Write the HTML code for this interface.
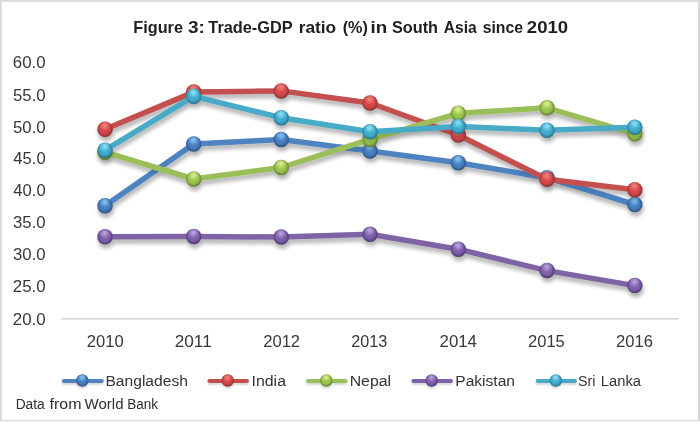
<!DOCTYPE html>
<html lang="en">
<head>
<meta charset="utf-8">
<title>Figure 3: Trade-GDP ratio (%) in South Asia since 2010</title>
<style>
html,body{margin:0;padding:0;background:#fff;}
body{width:700px;height:424px;overflow:hidden;}
svg{display:block;}
text{font-family:"Liberation Sans",sans-serif;}
.t{font-weight:bold;font-size:16.4px;fill:#1e1e1e;}
.a{font-size:15.6px;fill:#383838;}
.l{font-size:15.2px;fill:#333;}
.f{font-size:14px;fill:#2e2e2e;}
</style>
</head>
<body>
<svg width="700" height="424" viewBox="0 0 700 424">
<defs>
<filter id="sh" x="-5%" y="-20%" width="110%" height="150%">
<feGaussianBlur in="SourceAlpha" stdDeviation="1.9"/>
<feOffset dx="0.6" dy="3.6" result="b"/>
<feComponentTransfer><feFuncA type="linear" slope="0.12"/></feComponentTransfer>
<feMerge><feMergeNode/><feMergeNode in="SourceGraphic"/></feMerge>
</filter>
<filter id="sh0" x="-5%" y="-20%" width="110%" height="150%">
<feGaussianBlur in="SourceAlpha" stdDeviation="1.9"/>
<feOffset dx="0.6" dy="3.6"/>
<feComponentTransfer><feFuncA type="linear" slope="0.21"/></feComponentTransfer>
</filter>
<filter id="sh2" x="-20%" y="-60%" width="140%" height="260%">
<feGaussianBlur in="SourceAlpha" stdDeviation="1.0"/>
<feOffset dx="0.3" dy="1.6" result="b"/>
<feComponentTransfer><feFuncA type="linear" slope="0.16"/></feComponentTransfer>
<feMerge><feMergeNode/><feMergeNode in="SourceGraphic"/></feMerge>
</filter>
<radialGradient id="b-blue" cx="0.48" cy="0.45" r="0.55"><stop offset="0" stop-color="#467dc3"/><stop offset="0.58" stop-color="#467dc3"/><stop offset="0.85" stop-color="#35629c"/><stop offset="1" stop-color="#264870"/></radialGradient>
<radialGradient id="h-blue" cx="0.48" cy="0.26" r="0.36"><stop offset="0" stop-color="#8fd0fa" stop-opacity="0.9"/><stop offset="0.35" stop-color="#8fd0fa" stop-opacity="0.6"/><stop offset="1" stop-color="#8fd0fa" stop-opacity="0"/></radialGradient>
<radialGradient id="b-red" cx="0.48" cy="0.45" r="0.55"><stop offset="0" stop-color="#d4474a"/><stop offset="0.58" stop-color="#d4474a"/><stop offset="0.85" stop-color="#a8393b"/><stop offset="1" stop-color="#752b2c"/></radialGradient>
<radialGradient id="h-red" cx="0.48" cy="0.26" r="0.36"><stop offset="0" stop-color="#f98a88" stop-opacity="0.9"/><stop offset="0.35" stop-color="#f98a88" stop-opacity="0.6"/><stop offset="1" stop-color="#f98a88" stop-opacity="0"/></radialGradient>
<radialGradient id="b-green" cx="0.48" cy="0.45" r="0.55"><stop offset="0" stop-color="#98c44a"/><stop offset="0.58" stop-color="#98c44a"/><stop offset="0.85" stop-color="#77993a"/><stop offset="1" stop-color="#56702a"/></radialGradient>
<radialGradient id="h-green" cx="0.48" cy="0.26" r="0.36"><stop offset="0" stop-color="#eaf6a0" stop-opacity="0.9"/><stop offset="0.35" stop-color="#eaf6a0" stop-opacity="0.6"/><stop offset="1" stop-color="#eaf6a0" stop-opacity="0"/></radialGradient>
<radialGradient id="b-purple" cx="0.48" cy="0.45" r="0.55"><stop offset="0" stop-color="#7d5eaa"/><stop offset="0.58" stop-color="#7d5eaa"/><stop offset="0.85" stop-color="#5f4688"/><stop offset="1" stop-color="#463464"/></radialGradient>
<radialGradient id="h-purple" cx="0.48" cy="0.26" r="0.36"><stop offset="0" stop-color="#c8b0e6" stop-opacity="0.9"/><stop offset="0.35" stop-color="#c8b0e6" stop-opacity="0.6"/><stop offset="1" stop-color="#c8b0e6" stop-opacity="0"/></radialGradient>
<radialGradient id="b-cyan" cx="0.48" cy="0.45" r="0.55"><stop offset="0" stop-color="#3fabcc"/><stop offset="0.58" stop-color="#3fabcc"/><stop offset="0.85" stop-color="#2f88a4"/><stop offset="1" stop-color="#22657a"/></radialGradient>
<radialGradient id="h-cyan" cx="0.48" cy="0.26" r="0.36"><stop offset="0" stop-color="#98eafc" stop-opacity="0.9"/><stop offset="0.35" stop-color="#98eafc" stop-opacity="0.6"/><stop offset="1" stop-color="#98eafc" stop-opacity="0"/></radialGradient>
</defs>
<rect x="0" y="0" width="700" height="424" fill="#fff"/>
<rect x="0" y="0" width="700" height="1.8" fill="#d9d9d9"/>
<rect x="0" y="0" width="1.8" height="421" fill="#d9d9d9"/>
<rect x="698" y="0" width="2" height="421" fill="#d9d9d9"/>
<rect x="0" y="419.8" width="700" height="1.5" fill="#dcdcdc"/>
<rect x="60.8" y="317.95" width="618.1" height="1.8" fill="#d9d9d9"/>
<g class="t"><text x="133.31" y="32.9" textLength="49.64" lengthAdjust="spacingAndGlyphs">Figure</text><text x="187.96" y="32.9" textLength="16.86" lengthAdjust="spacingAndGlyphs">3:</text><text x="208.32" y="32.9" textLength="84.33" lengthAdjust="spacingAndGlyphs">Trade-GDP</text><text x="298.66" y="32.9" textLength="37.52" lengthAdjust="spacingAndGlyphs">ratio</text><text x="342.69" y="32.9" textLength="25.22" lengthAdjust="spacingAndGlyphs">(%)</text><text x="370.59" y="32.9" textLength="16.67" lengthAdjust="spacingAndGlyphs">in</text><text x="391.93" y="32.9" textLength="46.08" lengthAdjust="spacingAndGlyphs">South</text><text x="443.81" y="32.9" textLength="32.99" lengthAdjust="spacingAndGlyphs">Asia</text><text x="482.64" y="32.9" textLength="40.40" lengthAdjust="spacingAndGlyphs">since</text><text x="526.86" y="32.9" textLength="41.31" lengthAdjust="spacingAndGlyphs">2010</text></g>
<g class="a"><text x="12.84" y="68.1" textLength="32.81" lengthAdjust="spacingAndGlyphs">60.0</text><text x="13.03" y="100.6" textLength="32.63" lengthAdjust="spacingAndGlyphs">55.0</text><text x="13.03" y="132.6" textLength="32.63" lengthAdjust="spacingAndGlyphs">50.0</text><text x="13.32" y="164.3" textLength="32.33" lengthAdjust="spacingAndGlyphs">45.0</text><text x="13.32" y="196.0" textLength="32.33" lengthAdjust="spacingAndGlyphs">40.0</text><text x="13.06" y="228.3" textLength="32.59" lengthAdjust="spacingAndGlyphs">35.0</text><text x="13.06" y="260.0" textLength="32.59" lengthAdjust="spacingAndGlyphs">30.0</text><text x="12.85" y="291.9" textLength="32.81" lengthAdjust="spacingAndGlyphs">25.0</text><text x="12.85" y="324.5" textLength="32.81" lengthAdjust="spacingAndGlyphs">20.0</text></g>
<g class="a"><text x="86.77" y="346.7" textLength="36.88" lengthAdjust="spacingAndGlyphs">2010</text><text x="174.76" y="346.7" textLength="36.95" lengthAdjust="spacingAndGlyphs">2011</text><text x="263.16" y="346.7" textLength="36.97" lengthAdjust="spacingAndGlyphs">2012</text><text x="351.18" y="346.7" textLength="36.13" lengthAdjust="spacingAndGlyphs">2013</text><text x="439.55" y="346.7" textLength="37.44" lengthAdjust="spacingAndGlyphs">2014</text><text x="527.97" y="346.7" textLength="36.83" lengthAdjust="spacingAndGlyphs">2015</text><text x="616.07" y="346.7" textLength="36.86" lengthAdjust="spacingAndGlyphs">2016</text></g>
<g filter="url(#sh0)"><polyline points="105.0,205.8 193.7,143.9 281.2,139.4 370.0,150.9 458.3,162.7 547.0,177.7 634.8,204.5" fill="none" stroke="#4e83c1" stroke-width="5.5" stroke-linejoin="round" stroke-linecap="round"/><circle cx="105.0" cy="205.8" r="7.75" fill="url(#b-blue)"/><circle cx="193.7" cy="143.9" r="7.75" fill="url(#b-blue)"/><circle cx="281.2" cy="139.4" r="7.75" fill="url(#b-blue)"/><circle cx="370.0" cy="150.9" r="7.75" fill="url(#b-blue)"/><circle cx="458.3" cy="162.7" r="7.75" fill="url(#b-blue)"/><circle cx="547.0" cy="177.7" r="7.75" fill="url(#b-blue)"/><circle cx="634.8" cy="204.5" r="7.75" fill="url(#b-blue)"/><polyline points="105.0,129.2 193.7,92.1 281.2,90.9 370.0,103.0 458.3,135.0 547.0,179.3 634.8,189.8" fill="none" stroke="#c44f50" stroke-width="5.5" stroke-linejoin="round" stroke-linecap="round"/><circle cx="105.0" cy="129.2" r="7.75" fill="url(#b-red)"/><circle cx="193.7" cy="92.1" r="7.75" fill="url(#b-red)"/><circle cx="281.2" cy="90.9" r="7.75" fill="url(#b-red)"/><circle cx="370.0" cy="103.0" r="7.75" fill="url(#b-red)"/><circle cx="458.3" cy="135.0" r="7.75" fill="url(#b-red)"/><circle cx="547.0" cy="179.3" r="7.75" fill="url(#b-red)"/><circle cx="634.8" cy="189.8" r="7.75" fill="url(#b-red)"/><polyline points="105.0,152.2 193.7,179.0 281.2,167.5 370.0,139.4 458.3,113.3 547.0,107.8 634.8,133.8" fill="none" stroke="#9bbf58" stroke-width="5.5" stroke-linejoin="round" stroke-linecap="round"/><circle cx="105.0" cy="152.2" r="7.75" fill="url(#b-green)"/><circle cx="193.7" cy="179.0" r="7.75" fill="url(#b-green)"/><circle cx="281.2" cy="167.5" r="7.75" fill="url(#b-green)"/><circle cx="370.0" cy="139.4" r="7.75" fill="url(#b-green)"/><circle cx="458.3" cy="113.3" r="7.75" fill="url(#b-green)"/><circle cx="547.0" cy="107.8" r="7.75" fill="url(#b-green)"/><circle cx="634.8" cy="133.8" r="7.75" fill="url(#b-green)"/><polyline points="105.0,236.8 193.7,236.4 281.2,237.1 370.0,234.2 458.3,249.2 547.0,270.6 634.8,285.6" fill="none" stroke="#8064a5" stroke-width="5.5" stroke-linejoin="round" stroke-linecap="round"/><circle cx="105.0" cy="236.8" r="7.75" fill="url(#b-purple)"/><circle cx="193.7" cy="236.4" r="7.75" fill="url(#b-purple)"/><circle cx="281.2" cy="237.1" r="7.75" fill="url(#b-purple)"/><circle cx="370.0" cy="234.2" r="7.75" fill="url(#b-purple)"/><circle cx="458.3" cy="249.2" r="7.75" fill="url(#b-purple)"/><circle cx="547.0" cy="270.6" r="7.75" fill="url(#b-purple)"/><circle cx="634.8" cy="285.6" r="7.75" fill="url(#b-purple)"/><polyline points="105.0,150.2 193.7,96.3 281.2,117.7 370.0,131.7 458.3,126.6 547.0,130.2 634.8,127.3" fill="none" stroke="#47aac7" stroke-width="5.5" stroke-linejoin="round" stroke-linecap="round"/><circle cx="105.0" cy="150.2" r="7.75" fill="url(#b-cyan)"/><circle cx="193.7" cy="96.3" r="7.75" fill="url(#b-cyan)"/><circle cx="281.2" cy="117.7" r="7.75" fill="url(#b-cyan)"/><circle cx="370.0" cy="131.7" r="7.75" fill="url(#b-cyan)"/><circle cx="458.3" cy="126.6" r="7.75" fill="url(#b-cyan)"/><circle cx="547.0" cy="130.2" r="7.75" fill="url(#b-cyan)"/><circle cx="634.8" cy="127.3" r="7.75" fill="url(#b-cyan)"/></g>
<g filter="url(#sh)"><polyline points="105.0,205.8 193.7,143.9 281.2,139.4 370.0,150.9 458.3,162.7 547.0,177.7 634.8,204.5" fill="none" stroke="#4e83c1" stroke-width="5.5" stroke-linejoin="round" stroke-linecap="round"/><circle cx="105.0" cy="205.8" r="7.75" fill="url(#b-blue)"/><circle cx="105.0" cy="205.8" r="7.75" fill="url(#h-blue)"/><circle cx="193.7" cy="143.9" r="7.75" fill="url(#b-blue)"/><circle cx="193.7" cy="143.9" r="7.75" fill="url(#h-blue)"/><circle cx="281.2" cy="139.4" r="7.75" fill="url(#b-blue)"/><circle cx="281.2" cy="139.4" r="7.75" fill="url(#h-blue)"/><circle cx="370.0" cy="150.9" r="7.75" fill="url(#b-blue)"/><circle cx="370.0" cy="150.9" r="7.75" fill="url(#h-blue)"/><circle cx="458.3" cy="162.7" r="7.75" fill="url(#b-blue)"/><circle cx="458.3" cy="162.7" r="7.75" fill="url(#h-blue)"/><circle cx="547.0" cy="177.7" r="7.75" fill="url(#b-blue)"/><circle cx="547.0" cy="177.7" r="7.75" fill="url(#h-blue)"/><circle cx="634.8" cy="204.5" r="7.75" fill="url(#b-blue)"/><circle cx="634.8" cy="204.5" r="7.75" fill="url(#h-blue)"/></g>
<g filter="url(#sh)"><polyline points="105.0,129.2 193.7,92.1 281.2,90.9 370.0,103.0 458.3,135.0 547.0,179.3 634.8,189.8" fill="none" stroke="#c44f50" stroke-width="5.5" stroke-linejoin="round" stroke-linecap="round"/><circle cx="105.0" cy="129.2" r="7.75" fill="url(#b-red)"/><circle cx="105.0" cy="129.2" r="7.75" fill="url(#h-red)"/><circle cx="193.7" cy="92.1" r="7.75" fill="url(#b-red)"/><circle cx="193.7" cy="92.1" r="7.75" fill="url(#h-red)"/><circle cx="281.2" cy="90.9" r="7.75" fill="url(#b-red)"/><circle cx="281.2" cy="90.9" r="7.75" fill="url(#h-red)"/><circle cx="370.0" cy="103.0" r="7.75" fill="url(#b-red)"/><circle cx="370.0" cy="103.0" r="7.75" fill="url(#h-red)"/><circle cx="458.3" cy="135.0" r="7.75" fill="url(#b-red)"/><circle cx="458.3" cy="135.0" r="7.75" fill="url(#h-red)"/><circle cx="547.0" cy="179.3" r="7.75" fill="url(#b-red)"/><circle cx="547.0" cy="179.3" r="7.75" fill="url(#h-red)"/><circle cx="634.8" cy="189.8" r="7.75" fill="url(#b-red)"/><circle cx="634.8" cy="189.8" r="7.75" fill="url(#h-red)"/></g>
<g filter="url(#sh)"><polyline points="105.0,152.2 193.7,179.0 281.2,167.5 370.0,139.4 458.3,113.3 547.0,107.8 634.8,133.8" fill="none" stroke="#9bbf58" stroke-width="5.5" stroke-linejoin="round" stroke-linecap="round"/><circle cx="105.0" cy="152.2" r="7.75" fill="url(#b-green)"/><circle cx="105.0" cy="152.2" r="7.75" fill="url(#h-green)"/><circle cx="193.7" cy="179.0" r="7.75" fill="url(#b-green)"/><circle cx="193.7" cy="179.0" r="7.75" fill="url(#h-green)"/><circle cx="281.2" cy="167.5" r="7.75" fill="url(#b-green)"/><circle cx="281.2" cy="167.5" r="7.75" fill="url(#h-green)"/><circle cx="370.0" cy="139.4" r="7.75" fill="url(#b-green)"/><circle cx="370.0" cy="139.4" r="7.75" fill="url(#h-green)"/><circle cx="458.3" cy="113.3" r="7.75" fill="url(#b-green)"/><circle cx="458.3" cy="113.3" r="7.75" fill="url(#h-green)"/><circle cx="547.0" cy="107.8" r="7.75" fill="url(#b-green)"/><circle cx="547.0" cy="107.8" r="7.75" fill="url(#h-green)"/><circle cx="634.8" cy="133.8" r="7.75" fill="url(#b-green)"/><circle cx="634.8" cy="133.8" r="7.75" fill="url(#h-green)"/></g>
<g filter="url(#sh)"><polyline points="105.0,236.8 193.7,236.4 281.2,237.1 370.0,234.2 458.3,249.2 547.0,270.6 634.8,285.6" fill="none" stroke="#8064a5" stroke-width="5.5" stroke-linejoin="round" stroke-linecap="round"/><circle cx="105.0" cy="236.8" r="7.75" fill="url(#b-purple)"/><circle cx="105.0" cy="236.8" r="7.75" fill="url(#h-purple)"/><circle cx="193.7" cy="236.4" r="7.75" fill="url(#b-purple)"/><circle cx="193.7" cy="236.4" r="7.75" fill="url(#h-purple)"/><circle cx="281.2" cy="237.1" r="7.75" fill="url(#b-purple)"/><circle cx="281.2" cy="237.1" r="7.75" fill="url(#h-purple)"/><circle cx="370.0" cy="234.2" r="7.75" fill="url(#b-purple)"/><circle cx="370.0" cy="234.2" r="7.75" fill="url(#h-purple)"/><circle cx="458.3" cy="249.2" r="7.75" fill="url(#b-purple)"/><circle cx="458.3" cy="249.2" r="7.75" fill="url(#h-purple)"/><circle cx="547.0" cy="270.6" r="7.75" fill="url(#b-purple)"/><circle cx="547.0" cy="270.6" r="7.75" fill="url(#h-purple)"/><circle cx="634.8" cy="285.6" r="7.75" fill="url(#b-purple)"/><circle cx="634.8" cy="285.6" r="7.75" fill="url(#h-purple)"/></g>
<g filter="url(#sh)"><polyline points="105.0,150.2 193.7,96.3 281.2,117.7 370.0,131.7 458.3,126.6 547.0,130.2 634.8,127.3" fill="none" stroke="#47aac7" stroke-width="5.5" stroke-linejoin="round" stroke-linecap="round"/><circle cx="105.0" cy="150.2" r="7.75" fill="url(#b-cyan)"/><circle cx="105.0" cy="150.2" r="7.75" fill="url(#h-cyan)"/><circle cx="193.7" cy="96.3" r="7.75" fill="url(#b-cyan)"/><circle cx="193.7" cy="96.3" r="7.75" fill="url(#h-cyan)"/><circle cx="281.2" cy="117.7" r="7.75" fill="url(#b-cyan)"/><circle cx="281.2" cy="117.7" r="7.75" fill="url(#h-cyan)"/><circle cx="370.0" cy="131.7" r="7.75" fill="url(#b-cyan)"/><circle cx="370.0" cy="131.7" r="7.75" fill="url(#h-cyan)"/><circle cx="458.3" cy="126.6" r="7.75" fill="url(#b-cyan)"/><circle cx="458.3" cy="126.6" r="7.75" fill="url(#h-cyan)"/><circle cx="547.0" cy="130.2" r="7.75" fill="url(#b-cyan)"/><circle cx="547.0" cy="130.2" r="7.75" fill="url(#h-cyan)"/><circle cx="634.8" cy="127.3" r="7.75" fill="url(#b-cyan)"/><circle cx="634.8" cy="127.3" r="7.75" fill="url(#h-cyan)"/></g>
<g filter="url(#sh2)"><line x1="63.9" y1="381.0" x2="101.7" y2="381.0" stroke="#4e83c1" stroke-width="4.2" stroke-linecap="round"/><circle cx="82.3" cy="380.5" r="6.2" fill="url(#b-blue)"/><circle cx="82.3" cy="380.5" r="6.2" fill="url(#h-blue)"/></g><text class="l" x="105.42" y="385.5" textLength="82.50" lengthAdjust="spacingAndGlyphs">Bangladesh</text>
<g filter="url(#sh2)"><line x1="209.5" y1="381.0" x2="246.9" y2="381.0" stroke="#c44f50" stroke-width="4.2" stroke-linecap="round"/><circle cx="227.7" cy="380.5" r="6.2" fill="url(#b-red)"/><circle cx="227.7" cy="380.5" r="6.2" fill="url(#h-red)"/></g><text class="l" x="251.53" y="385.5" textLength="34.47" lengthAdjust="spacingAndGlyphs">India</text>
<g filter="url(#sh2)"><line x1="308.1" y1="381.0" x2="345.5" y2="381.0" stroke="#9bbf58" stroke-width="4.2" stroke-linecap="round"/><circle cx="326.3" cy="380.5" r="6.2" fill="url(#b-green)"/><circle cx="326.3" cy="380.5" r="6.2" fill="url(#h-green)"/></g><text class="l" x="349.70" y="385.5" textLength="41.36" lengthAdjust="spacingAndGlyphs">Nepal</text>
<g filter="url(#sh2)"><line x1="413.5" y1="381.0" x2="450.9" y2="381.0" stroke="#8064a5" stroke-width="4.2" stroke-linecap="round"/><circle cx="431.7" cy="380.5" r="6.2" fill="url(#b-purple)"/><circle cx="431.7" cy="380.5" r="6.2" fill="url(#h-purple)"/></g><text class="l" x="455.32" y="385.5" textLength="59.69" lengthAdjust="spacingAndGlyphs">Pakistan</text>
<g filter="url(#sh2)"><line x1="537.7" y1="381.0" x2="574.9" y2="381.0" stroke="#47aac7" stroke-width="4.2" stroke-linecap="round"/><circle cx="555.8" cy="380.5" r="6.2" fill="url(#b-cyan)"/><circle cx="555.8" cy="380.5" r="6.2" fill="url(#h-cyan)"/></g><text class="l" x="577.95" y="385.5" textLength="17.41" lengthAdjust="spacingAndGlyphs">Sri</text><text class="l" x="600.79" y="385.5" textLength="40.21" lengthAdjust="spacingAndGlyphs">Lanka</text>
<g class="f"><text x="15.67" y="409.0" textLength="29.13" lengthAdjust="spacingAndGlyphs">Data</text><text x="49.57" y="409.0" textLength="31.98" lengthAdjust="spacingAndGlyphs">from</text><text x="84.63" y="409.0" textLength="38.93" lengthAdjust="spacingAndGlyphs">World</text><text x="127.19" y="409.0" textLength="30.79" lengthAdjust="spacingAndGlyphs">Bank</text></g>
</svg>
</body>
</html>
